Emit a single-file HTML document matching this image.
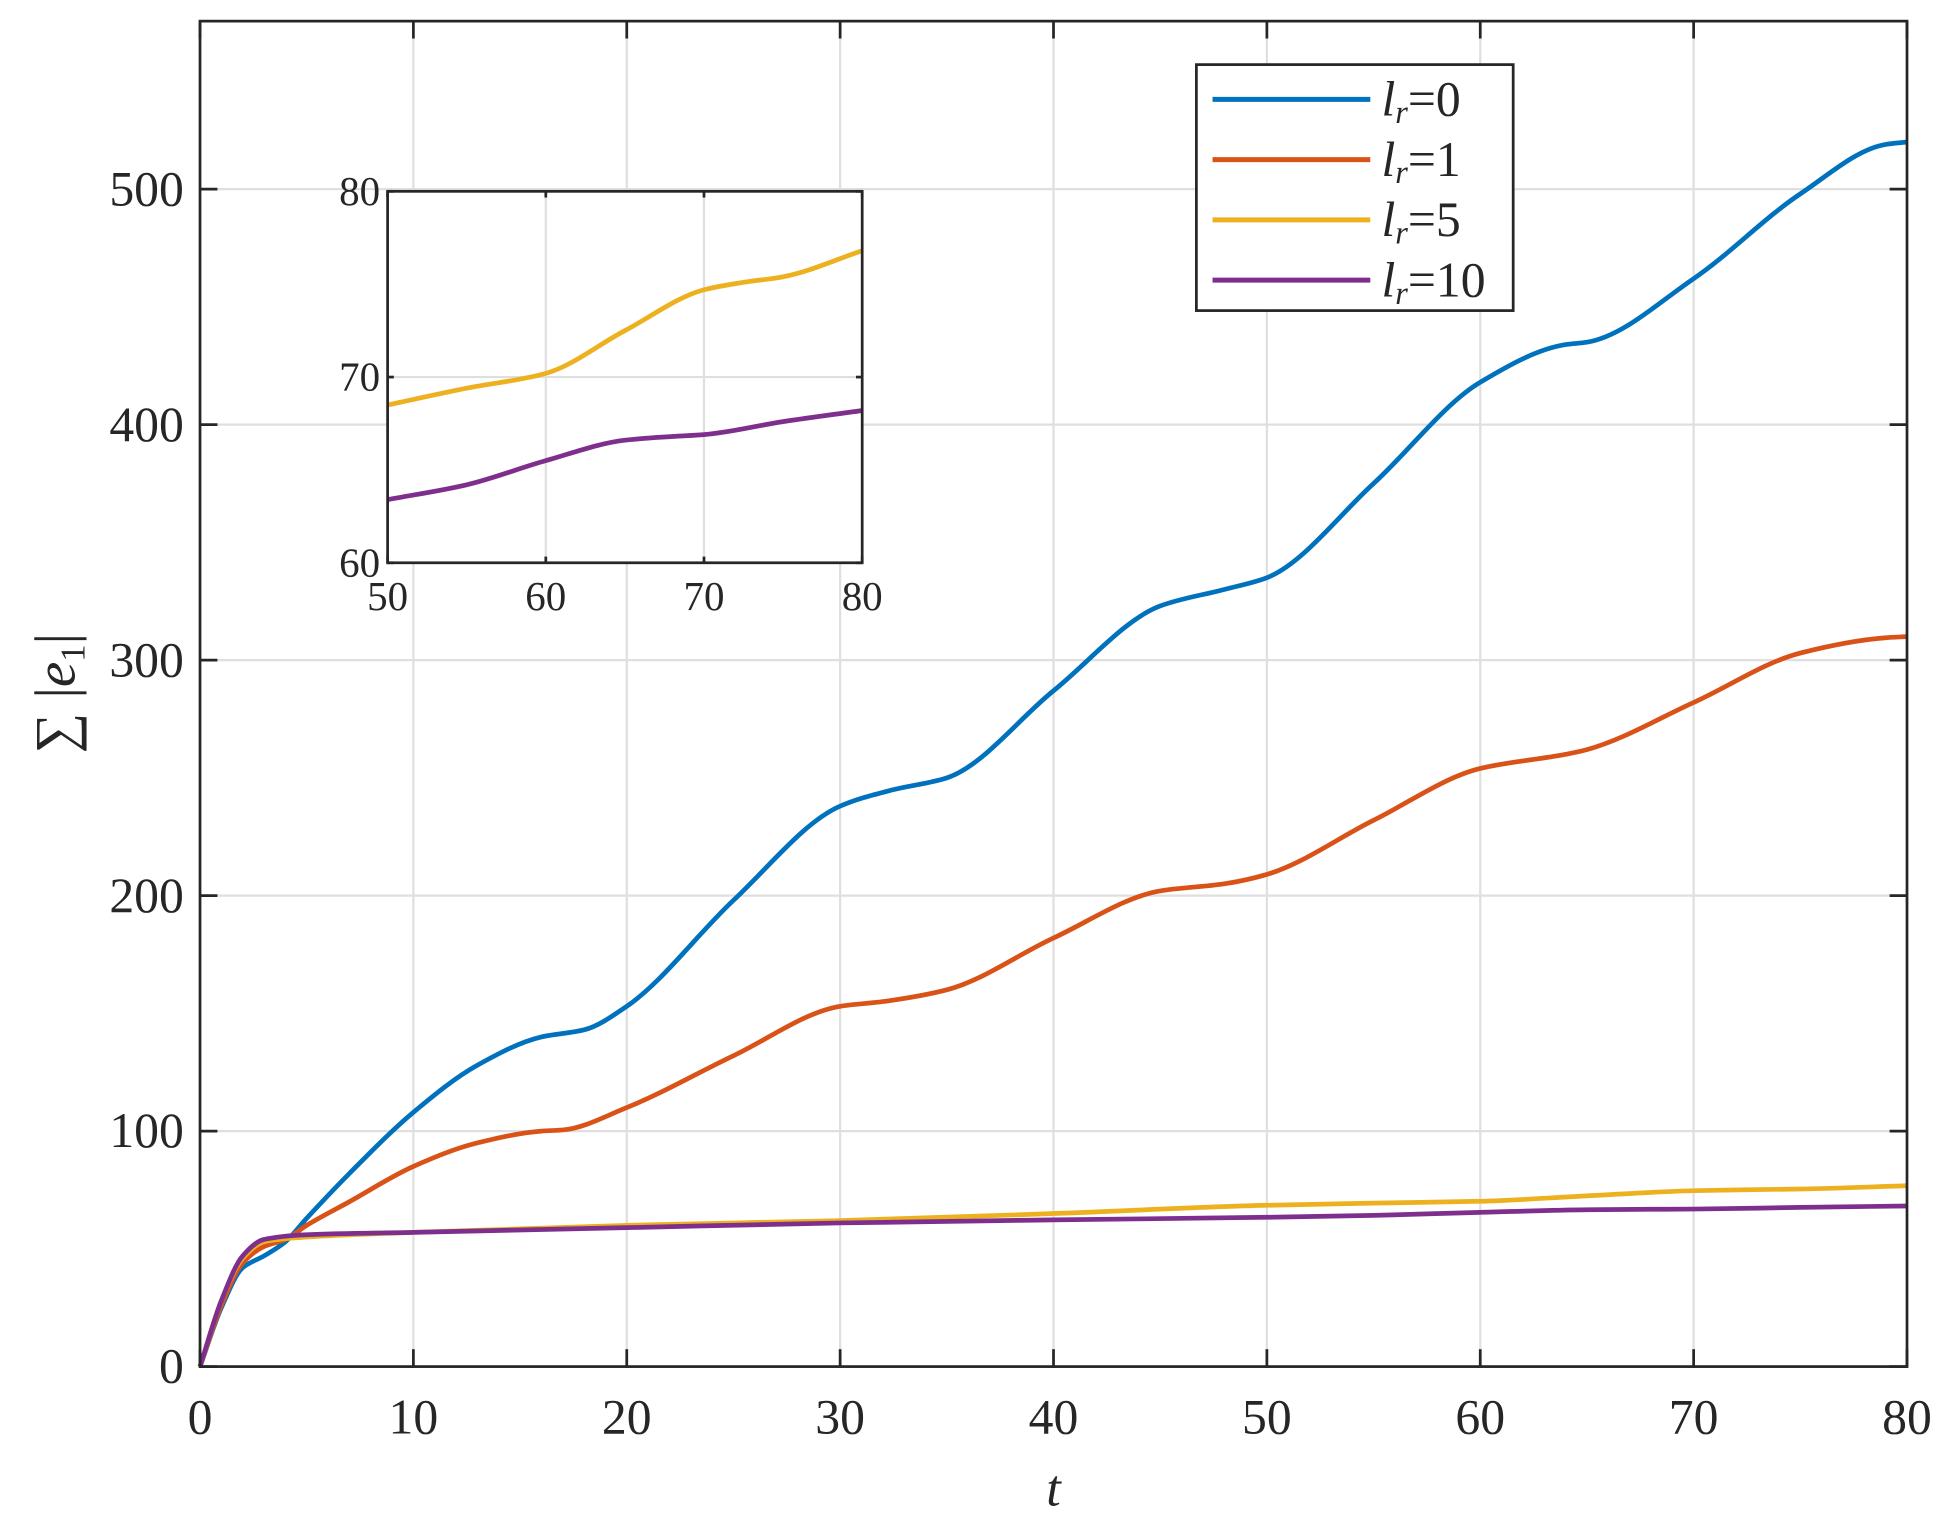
<!DOCTYPE html>
<html><head><meta charset="utf-8"><style>
html,body{margin:0;padding:0;background:#fff;}
svg{display:block;}
text{font-family:"Liberation Serif",serif;fill:#262626;}
</style></head><body>
<svg id="s" width="1948" height="1525" viewBox="0 0 1568 1227.5" xmlns="http://www.w3.org/2000/svg">
<rect width="1568" height="1227.5" fill="#fff"/>
<g id="main"></g>
</svg>
<script>
const NS="http://www.w3.org/2000/svg";
const g=document.getElementById('main');
function el(t,a,txt){const e=document.createElementNS(NS,t);for(const k in a)e.setAttribute(k,a[k]);if(txt!==undefined)e.textContent=txt;g.appendChild(e);return e;}
const L=161,R=1535,T=17,B=1100;
const X=t=>L+t*(R-L)/80, Y=v=>B-v*1.8955;
for(let t=10;t<80;t+=10)el('line',{x1:X(t),y1:T,x2:X(t),y2:B,stroke:'#dfdfdf','stroke-width':1.8});
for(let v=100;v<=500;v+=100)el('line',{x1:L,y1:Y(v),x2:R,y2:Y(v),stroke:'#dfdfdf','stroke-width':1.8});
// monotone cubic interpolation
function mono(pts){
  const n=pts.length,xs=pts.map(p=>p[0]),ys=pts.map(p=>p[1]);
  const d=[],m=[];
  for(let i=0;i<n-1;i++)d.push((ys[i+1]-ys[i])/(xs[i+1]-xs[i]));
  m[0]=d[0];m[n-1]=d[n-2];
  for(let i=1;i<n-1;i++){
    if(d[i-1]*d[i]<=0)m[i]=0;
    else{const h0=xs[i]-xs[i-1],h1=xs[i+1]-xs[i];const w1=2*h1+h0,w2=h1+2*h0;m[i]=(w1+w2)/(w1/d[i-1]+w2/d[i]);}
  }
  return {xs,ys,m};
}
function path(pts,fx,fy,col,w){
  const {xs,ys,m}=mono(pts);
  let d='M'+fx(xs[0])+','+fy(ys[0]);
  for(let i=0;i<xs.length-1;i++){
    const h=xs[i+1]-xs[i];
    const c1=[fx(xs[i]+h/3),fy(ys[i]+m[i]*h/3)];
    const c2=[fx(xs[i+1]-h/3),fy(ys[i+1]-m[i+1]*h/3)];
    d+=' C'+c1+' '+c2+' '+fx(xs[i+1])+','+fy(ys[i+1]);
  }
  el('path',{d:d,fill:'none',stroke:col,'stroke-width':w,'stroke-linejoin':'round'});
}
const blue=[[0,0],[1,25],[2,42],[3,47],[4,53],[5,63],[7,82],[10,108],[13,128],[16,140],[18,143],[20,153],[25,198],[30,238],[32.5,245],[35,250],[40,287],[45,323],[48,330],[50,335],[55,375],[60,418],[64,434],[65,435],[70,462],[75,498],[79,519],[80,520]];
const orange=[[0,0],[1,26],[2,44],[3,51],[4,54],[5,60],[7,70],[10,85],[13,95],[16,100],[17,100.5],[20,110],[25,132],[30,153],[32,155],[35,160],[40,182],[45,202],[48,205],[50,209],[55,232],[60,254],[64,260],[65,262],[70,282],[75,303],[79,309.5],[80,310]];
const yellow=[[0,0],[1,28],[2,46],[3,53],[5,55],[10,57],[20,60],[30,62],[40,65],[50,68.5],[55,69.4],[60,70.2],[65,72.5],[70,74.7],[72.5,75.1],[75,75.4],[80,76.8]];
const purple=[[0,0],[1,28],[2,47],[3,54],[5,56],[10,57],[20,59],[30,61],[40,62.3],[50,63.4],[55,64.2],[60,65.5],[65,66.6],[68,66.8],[70,66.9],[75,67.6],[80,68.2]];
path(blue,X,Y,'#0072BD',3.8);
path(orange,X,Y,'#D95319',3.8);
path(yellow,X,Y,'#EDB120',3.8);
path(purple,X,Y,'#7E2F8E',3.8);
el('rect',{x:L,y:T,width:R-L,height:B-T,fill:'none',stroke:'#262626','stroke-width':2.2});
for(let t=0;t<=80;t+=10){
  el('line',{x1:X(t),y1:B,x2:X(t),y2:B-14,stroke:'#262626','stroke-width':2.2});
  el('line',{x1:X(t),y1:T,x2:X(t),y2:T+14,stroke:'#262626','stroke-width':2.2});
  el('text',{x:X(t),y:1154,'font-size':40,'text-anchor':'middle'},t);
}
for(let v=0;v<=500;v+=100){
  el('line',{x1:L,y1:Y(v),x2:L+14,y2:Y(v),stroke:'#262626','stroke-width':2.2});
  el('line',{x1:R,y1:Y(v),x2:R-14,y2:Y(v),stroke:'#262626','stroke-width':2.2});
  el('text',{x:148,y:Y(v)+13,'font-size':40,'text-anchor':'end'},v);
}
el('text',{x:848,y:1212,'font-size':42,'font-style':'italic','text-anchor':'middle'},'t');
const yl=el('text',{x:0,y:0,'font-size':46,'text-anchor':'middle',transform:'translate(60,558) rotate(-90)'});
yl.innerHTML='∑ |<tspan font-style="italic">e</tspan><tspan font-size="28" dy="8">1</tspan><tspan dy="-8">|</tspan>';
const iL=312,iR=694,iT=154,iB=453;
const IX=t=>iL+(t-50)*(iR-iL)/30, IY=v=>iB-(v-60)*(iB-iT)/20;
el('rect',{x:iL,y:iT,width:iR-iL,height:iB-iT,fill:'#fff'});
for(const t of [60,70])el('line',{x1:IX(t),y1:iT,x2:IX(t),y2:iB,stroke:'#dfdfdf','stroke-width':1.8});
el('line',{x1:iL,y1:IY(70),x2:iR,y2:IY(70),stroke:'#dfdfdf','stroke-width':1.8});
path(yellow.filter(p=>p[0]>=50),IX,IY,'#EDB120',3.8);
path(purple.filter(p=>p[0]>=50),IX,IY,'#7E2F8E',3.8);
el('rect',{x:iL,y:iT,width:iR-iL,height:iB-iT,fill:'none',stroke:'#262626','stroke-width':2.2});
for(const t of [50,60,70,80]){
  el('line',{x1:IX(t),y1:iB,x2:IX(t),y2:iB-5,stroke:'#262626','stroke-width':2.2});
  el('line',{x1:IX(t),y1:iT,x2:IX(t),y2:iT+5,stroke:'#262626','stroke-width':2.2});
  el('text',{x:IX(t),y:491,'font-size':33,'text-anchor':'middle'},t);
}
for(const v of [60,70,80]){
  el('line',{x1:iL,y1:IY(v),x2:iL+5,y2:IY(v),stroke:'#262626','stroke-width':2.2});
  el('line',{x1:iR,y1:IY(v),x2:iR-5,y2:IY(v),stroke:'#262626','stroke-width':2.2});
  el('text',{x:306,y:IY(v)+11,'font-size':33,'text-anchor':'end'},v);
}
el('rect',{x:963,y:52,width:255,height:198,fill:'#fff',stroke:'#262626','stroke-width':2.2});
const cols=['#0072BD','#D95319','#EDB120','#7E2F8E'],labs=['0','1','5','10'];
for(let i=0;i<4;i++){
  const y=80+i*48.5;
  el('line',{x1:976,y1:y,x2:1103,y2:y,stroke:cols[i],'stroke-width':4});
  const t=el('text',{x:1112,y:y+13,'font-size':40});
  t.innerHTML='<tspan font-style="italic">l</tspan><tspan font-style="italic" font-size="26" dy="6">r</tspan><tspan dy="-6">=</tspan>'+labs[i];
}
</script>
</body></html>
